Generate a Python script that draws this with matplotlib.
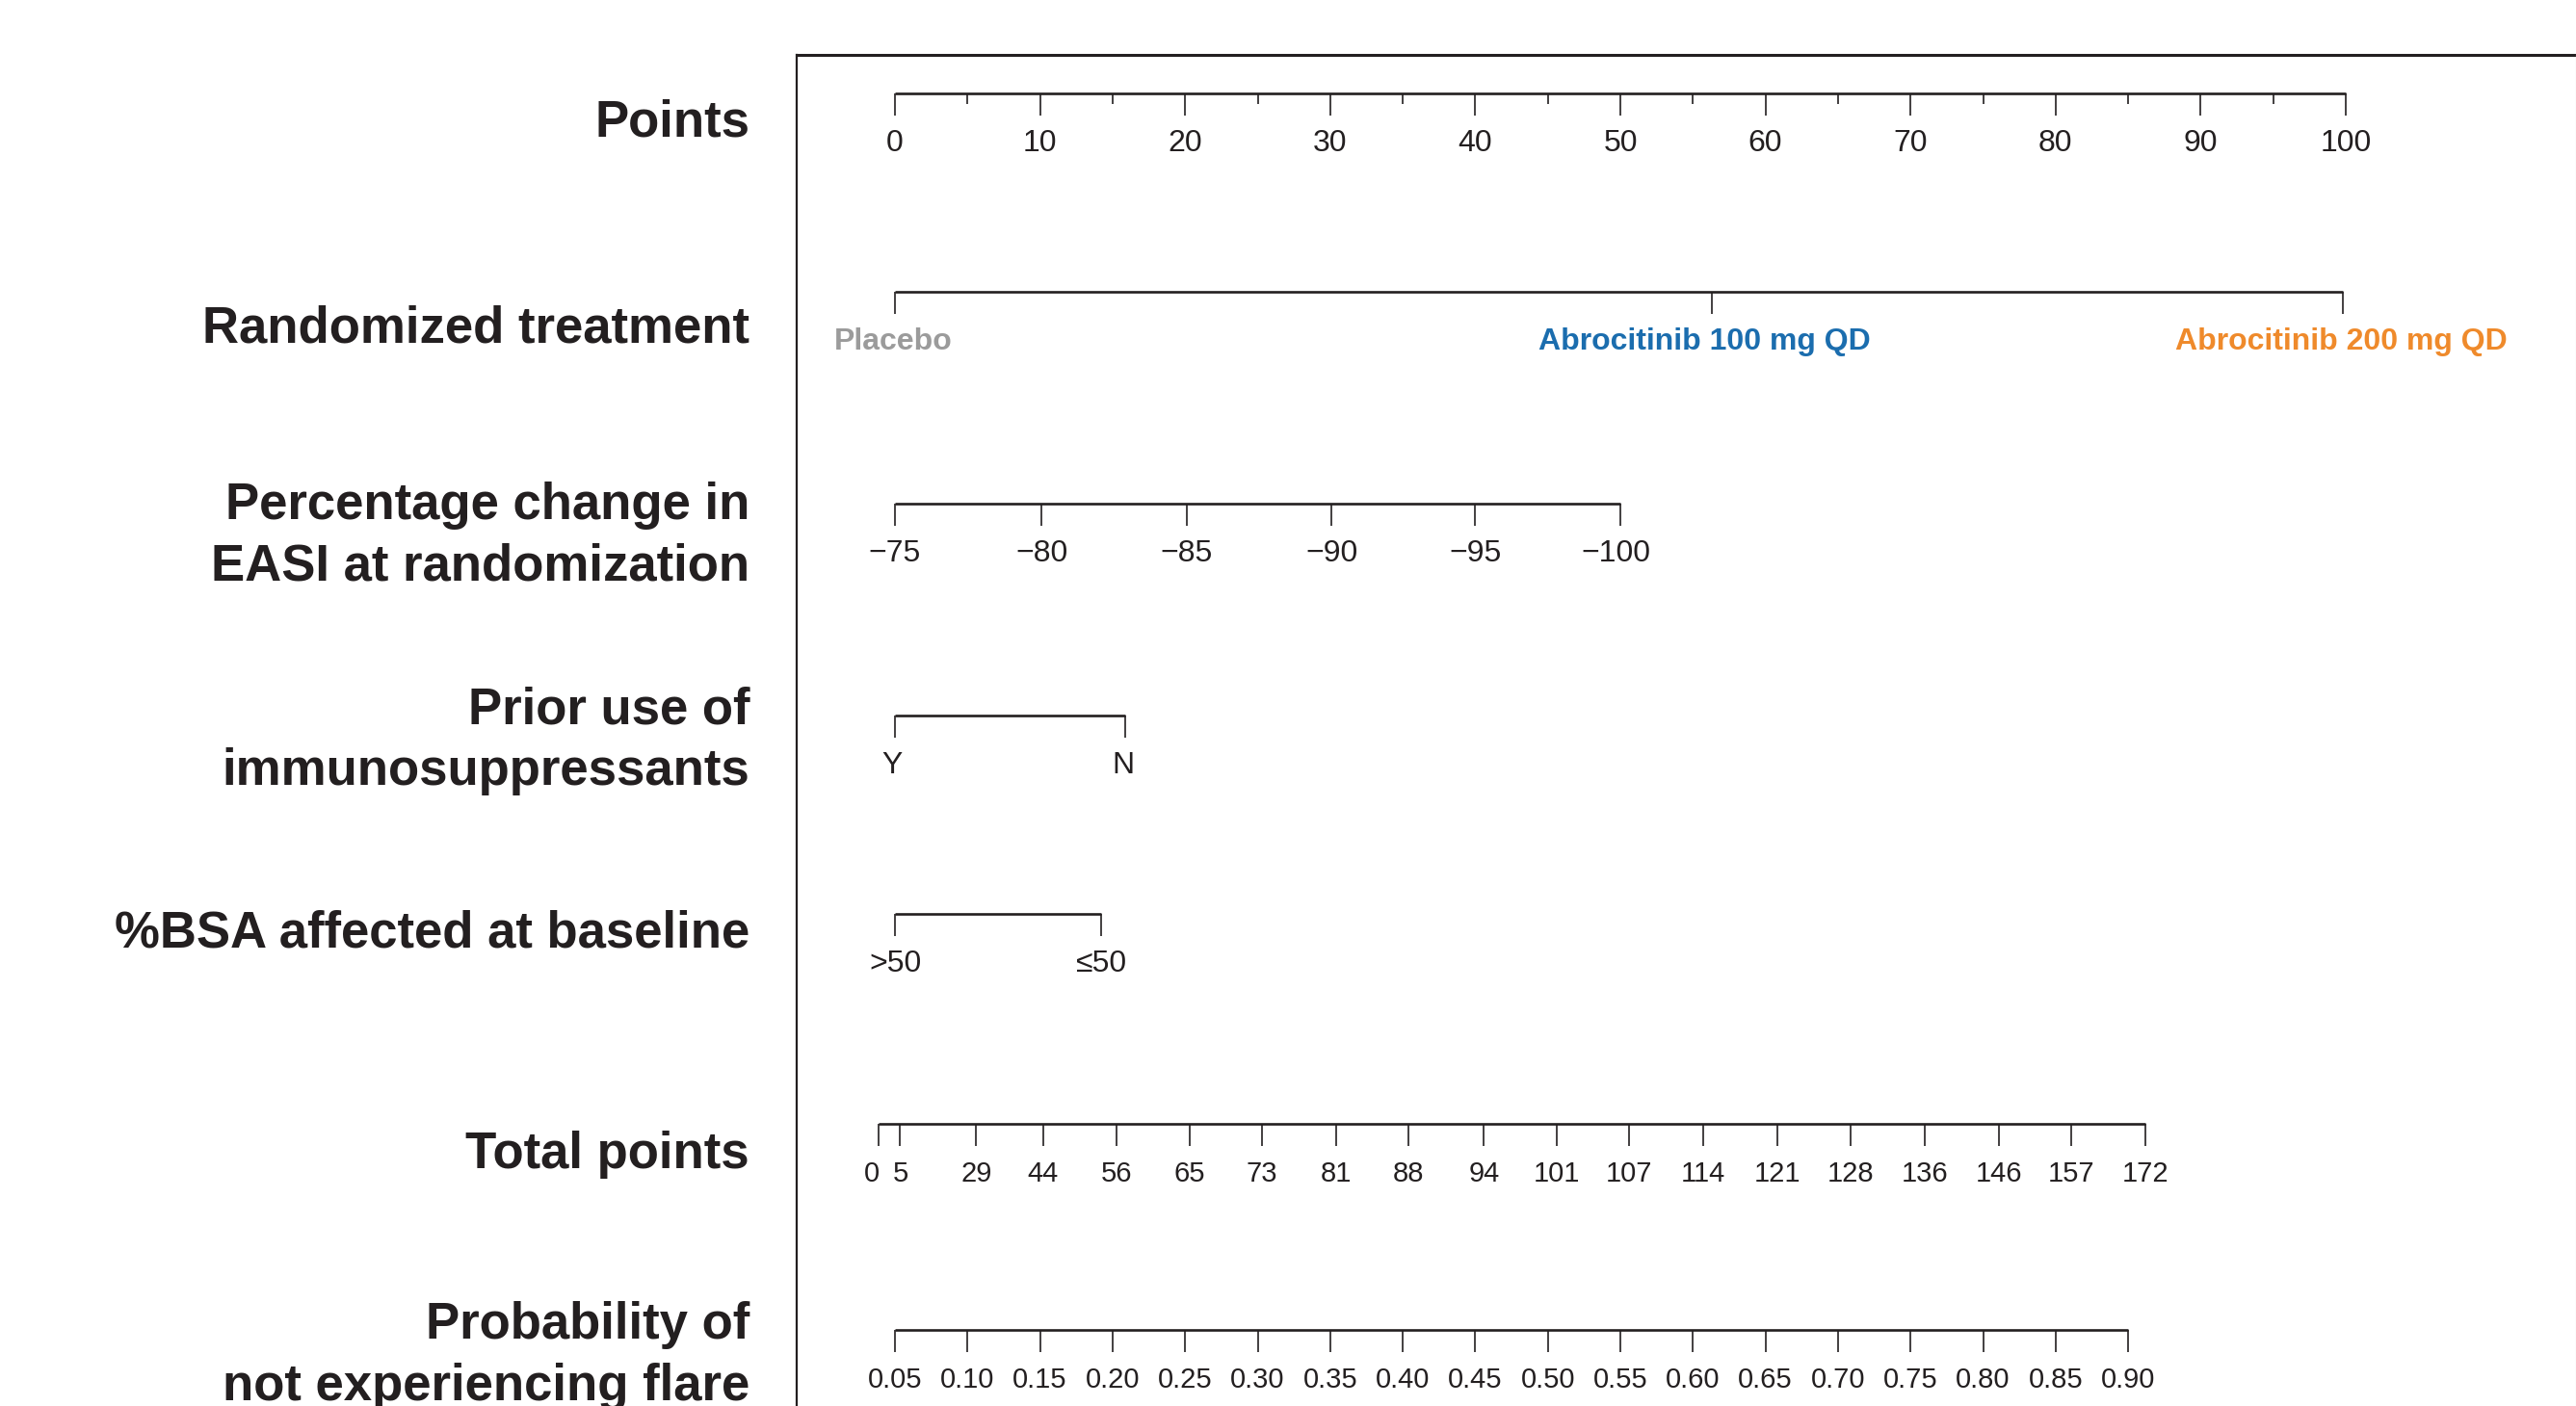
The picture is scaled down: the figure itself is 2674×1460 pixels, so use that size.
import matplotlib
matplotlib.use("Agg")
import matplotlib.pyplot as plt
from matplotlib.lines import Line2D

plt.rcParams['font.family'] = ['Liberation Sans', 'DejaVu Sans']

INK = "#231f20"

# --- nomogram data (points scale 0-100) ---
points_ticks = list(range(0, 101, 10))
points_minor = list(range(5, 100, 10))

treatments = ["Placebo", "Abrocitinib 100 mg QD", "Abrocitinib 200 mg QD"]
treatment_points = [0, 56.3, 99.8]
treatment_colors = ["#9b9b9b", "#1b6dae", "#ef8a2b"]

easi_values = [-75, -80, -85, -90, -95, -100]
easi_points = [0, 10.1, 20.1, 30.1, 40.0, 50.0]

prior_use = ["Y", "N"]
prior_points = [0, 15.9]

bsa_groups = [">50", "\u226450"]
bsa_points = [0, 14.2]

total_points = [0, 5, 29, 44, 56, 65, 73, 81, 88, 94, 101, 107, 114, 121,
                128, 136, 146, 157, 172]
# where each total-points tick falls on the points scale
total_on_scale = [-1.1, 0.3, 5.6, 10.2, 15.3, 20.3, 25.3, 30.4, 35.4, 40.6,
                  45.6, 50.6, 55.7, 60.8, 65.9, 71.0, 76.1, 81.1, 86.2]

prob_ticks = [0.05, 0.10, 0.15, 0.20, 0.25, 0.30, 0.35, 0.40, 0.45, 0.50,
              0.55, 0.60, 0.65, 0.70, 0.75, 0.80, 0.85, 0.90]
prob_on_scale = [(p - 0.05) * 100 for p in prob_ticks]

row_labels = ["Points", "Randomized treatment",
              "Percentage change in\nEASI at randomization",
              "Prior use of\nimmunosuppressants",
              "%BSA affected at baseline", "Total points",
              "Probability of\nnot experiencing flare"]

# --- layout (figure pixels) ---
W, H = 2674, 1460
x0px, px_per_pt = 929, 15.06
fig = plt.figure(figsize=(W / 100, H / 100), dpi=100)
ax = fig.add_axes([0, 0, 1, 1])
ax.set_xlim(-x0px / px_per_pt, (W - x0px) / px_per_pt)
ax.set_ylim(H, 0)
ax.axis("off")

line_y = [97, 303, 523, 743, 949, 1167, 1381]
label_y = [128, 341, 557, 769, 970, 1199, 1408]
tick_len = 23
text_gap = 52
LW_AXIS = 1.9
LW_TICK = 1.2


def draw_scale(y, xs, labels, fs=23, colors=None, weight="normal",
               nudge=None, tl=tick_len):
    ax.plot([min(xs), max(xs)], [y, y], color=INK, lw=LW_AXIS,
            solid_capstyle="butt")
    ax.vlines(xs, y, y + tl, color=INK, lw=LW_TICK)
    for i, (x, lab) in enumerate(zip(xs, labels)):
        c = colors[i] if colors else INK
        dx = nudge[i] if nudge else 0
        ax.text(x + dx, y + text_gap, lab, ha="center", va="center",
                fontsize=fs, color=c, fontweight=weight)


# Points
draw_scale(line_y[0], points_ticks, [str(v) for v in points_ticks])
ax.vlines(points_minor, line_y[0], line_y[0] + 11, color=INK, lw=LW_TICK)

# Randomized treatment
draw_scale(line_y[1], treatment_points, treatments, fs=23,
           colors=treatment_colors, weight="bold", nudge=[-0.1, -0.5, -0.1])

# EASI change
draw_scale(line_y[2], easi_points,
           ["\u2212" + str(-v) for v in easi_values],
           nudge=[0, 0, 0, 0, 0, -0.3])

# Prior immunosuppressants
draw_scale(line_y[3], prior_points, prior_use, nudge=[-0.2, -0.2])

# BSA
draw_scale(line_y[4], bsa_points, bsa_groups)

# Total points
draw_scale(line_y[5], total_on_scale, [str(v) for v in total_points], fs=21,
           nudge=[-0.5, 0.1] + [0] * 17)

# Probability
draw_scale(line_y[6], prob_on_scale, ["%.2f" % p for p in prob_ticks], fs=21)

# row titles
lab_x = (778 - x0px) / px_per_pt
for y, lab in zip(label_y, row_labels):
    ax.text(lab_x, y, lab, ha="right", va="center", fontsize=38,
            fontweight="bold", color=INK, linespacing=1.35)

# frame
fig.add_artist(Line2D([827 / W, 1.0], [1 - 57 / H, 1 - 57 / H],
                      color=INK, lw=2.2, transform=fig.transFigure))
fig.add_artist(Line2D([827 / W, 827 / W], [1 - 57 / H, 0],
                      color=INK, lw=1.6, transform=fig.transFigure))
fig.add_artist(Line2D([1 - 0.5 / W, 1 - 0.5 / W], [1 - 57 / H, 0],
                      color="#d0d0d0", lw=0.8, transform=fig.transFigure))

fig.savefig("out.png", dpi=100)
